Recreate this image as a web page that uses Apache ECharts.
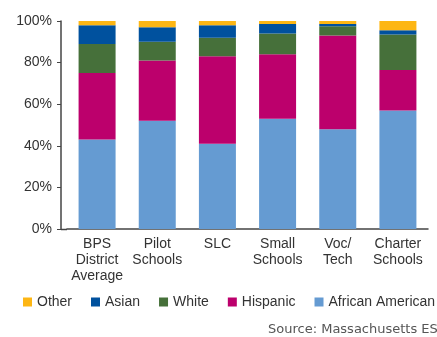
<!DOCTYPE html>
<html><head><meta charset="utf-8">
<script src="https://cdn.jsdelivr.net/npm/echarts@6/dist/echarts.min.js"></script>
<style>html,body{margin:0;padding:0;background:#fff}#c{width:437px;height:337px}</style>
</head><body><div id="c"></div>
<script>
const categories = ["BPS\nDistrict\nAverage", "Pilot\nSchools", "SLC", "Small\nSchools", "Voc/\nTech", "Charter\nSchools"];
const africanAmerican = [43, 52, 41, 53, 48, 57];
const hispanic = [32, 29, 42, 31, 45, 19.5];
const white = [14, 9, 9, 10, 4.5, 17];
const asian = [9, 7, 6, 4.5, 1, 2];
const other = [2, 3, 2, 1.5, 1.5, 4.5];
const yTicks = [0, 20, 40, 60, 80, 100];

const colors = {aa:'#659BD2', hisp:'#BC006C', white:'#46703A', asian:'#00519E', other:'#FDB614'};
const chart = echarts.init(document.getElementById('c'), null, {renderer:'canvas'});
function s(name, data, color){
  return {name, type:'bar', stack:'total', data, barWidth:37, itemStyle:{color}, emphasis:{disabled:true}};
}
chart.setOption({
  animation:false,
  textStyle:{fontFamily:'Liberation Sans, Arial, sans-serif'},
  grid:{left:67, right:9, top:21, bottom:108, containLabel:false},
  legend:{
    data:['Other','Asian','White','Hispanic','African American'],
    left:23, top:295, width:430, padding:0, itemWidth:9, itemHeight:9, itemGap:19, icon:'rect',
    textStyle:{fontSize:14, color:'#333'}
  },
  xAxis:{type:'category', data:categories,
    axisLine:{lineStyle:{color:'#444', width:1.5}}, axisTick:{show:false},
    axisLabel:{interval:0, fontSize:14, color:'#333', lineHeight:16, margin:7}},
  yAxis:{type:'value', min:0, max:100, interval:20,
    axisLine:{show:true, lineStyle:{color:'#444', width:1.5}, onZero:false},
    axisTick:{show:true, length:4, lineStyle:{color:'#444'}},
    splitLine:{show:false}, offset:6,
    axisLabel:{formatter: v => yTicks.includes(v) ? v + '%' : '', fontSize:14, color:'#333', margin:9}},
  graphic:[{type:'text', left:268, top:323, style:{text:'Source: Massachusetts ESE', fontSize:13, fill:'#555', fontFamily:'DejaVu Sans, sans-serif'}},
    {type:'line', shape:{x1:61, y1:229.5, x2:67, y2:229.5}, style:{stroke:'#444', lineWidth:1.5}}],
  series:[
    s('African American', africanAmerican, colors.aa),
    s('Hispanic', hispanic, colors.hisp),
    s('White', white, colors.white),
    s('Asian', asian, colors.asian),
    s('Other', other, colors.other)
  ]
});
</script></body></html>
